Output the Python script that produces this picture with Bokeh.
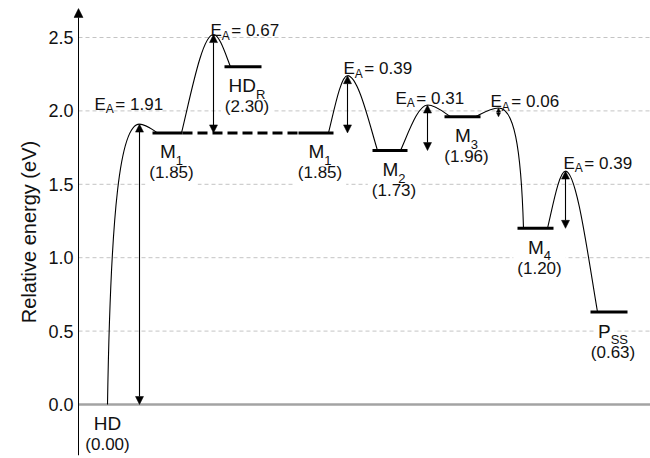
from bokeh.plotting import figure
from bokeh.models import Range1d, FixedTicker, PrintfTickFormatter, Arrow, NormalHead, ColumnDataSource
from bokeh.core.properties import value
from bokeh.embed import file_html
from bokeh.resources import INLINE

# ---------------- data ----------------
state_names = ["HD", "M", "HD", "M", "M", "M", "M", "P"]
state_subs = ["", "1", "R", "1", "2", "3", "4", "SS"]
state_energy = [0.00, 1.85, 2.30, 1.85, 1.73, 1.96, 1.20, 0.63]
step_from = [0, 1, 3, 4, 5, 6]
step_to = [1, 2, 4, 5, 6, 7]
barrier_ea = [1.91, 0.67, 0.39, 0.31, 0.06, 0.39]
dashed_link = [1, 3]          # M1 ... M1 at the same energy
y_ticks = [0.0, 0.5, 1.0, 1.5, 2.0, 2.5]
y_title = "Relative energy (eV)"

# ---------------- layout (hidden reaction coordinate) ----------------
frame_x0, axis_x, frame_x1 = 73, 78, 650
bar_left = [88, 152, 224, 298, 372, 444, 517, 590]
bar_right = [118, 182, 261, 333, 407, 480, 553, 627]
bar_visible = [False, True, True, True, True, True, True, True]
curve_start_x = [107, 181, 328, 400, 475, 547]
peak_x = [139, 213, 347, 427, 498, 565]
curve_end_x = [157, 230, 377, 450, 523, 597]
shape_left = ["steep", "std", "std", "std", "std", "std"]
shape_right = ["std", "std", "std", "std", "steep", "std"]
ea_dx = [-45, -3, -4, -32, -8, -2]
ea_dy = [-20, -4, -7, -7, -6, -8]
head_size = [8, 8, 8, 8, 4, 8]
name_dy, sub_dy, val_dy = 23, 27.5, 44

SHAPES = {"std": (0.30, 0.40, 0.65), "steep": (0.10, 0.70, 0.40)}
FONT = "Liberation Sans"
INK = "#111111"
NAME_PX, SUB_PX, VAL_PX, EA_SUB_PX = 19, 13, 17, 12
PAD = 4
CHAR_W = {"H": 722, "D": 722, "M": 833, "P": 667, "E": 667, "A": 667, "R": 722, "S": 667,
          "0": 556, "1": 556, "2": 556, "3": 556, "4": 556}


def text_w(s, px):
    return sum(CHAR_W[c] for c in s) * px / 1000.0


# ---------------- figure ----------------
px_per_unit = 146.8
y_lo = -(455 - 404) / px_per_unit
y_hi = (404 - 8) / px_per_unit
p = figure(width=650, height=458, output_backend="svg", toolbar_location=None,
           x_range=Range1d(frame_x0, frame_x1), y_range=Range1d(y_lo, y_hi),
           x_axis_location=None, min_border_left=frame_x0, min_border_right=0,
           min_border_top=8, min_border_bottom=3, background_fill_color="white",
           border_fill_color="white")
p.outline_line_color = None
p.xgrid.visible = False
p.ygrid.visible = False

ax = p.yaxis[0]
ax.ticker = FixedTicker(ticks=y_ticks)
ax.formatter = PrintfTickFormatter(format="%.1f")
ax.axis_line_color = None
ax.major_tick_line_color = None
ax.minor_tick_line_color = None
ax.major_tick_in = 0
ax.major_tick_out = 0
ax.major_label_standoff = 0
ax.major_label_text_font = FONT
ax.major_label_text_font_size = "18px"
ax.major_label_text_color = INK
ax.axis_label = y_title
ax.axis_label_text_font = FONT
ax.axis_label_text_font_size = "20px"
ax.axis_label_text_font_style = "normal"
ax.axis_label_text_color = INK
ax.axis_label_standoff = 5

# dashed grid lines and zero line
gy = [t for t in y_ticks if t != 0]
p.segment(x0=[axis_x] * len(gy), y0=gy, x1=[frame_x1] * len(gy), y1=gy,
          line_color="#c4c4c4", line_width=1, line_dash="4 3")
p.segment(x0=[axis_x], y0=[0], x1=[frame_x1], y1=[0], line_color="#a3a3a3", line_width=2.5)

# axis line with arrow head
p.add_layout(Arrow(x_start=axis_x, y_start=y_lo, x_end=axis_x, y_end=y_hi,
                   end=NormalHead(size=9, fill_color="black", line_color="black", line_width=0.5),
                   start=None, line_color="black", line_width=1))

# ---------------- levels ----------------
bx0 = [bar_left[i] for i in range(len(state_energy)) if bar_visible[i]]
bx1 = [bar_right[i] for i in range(len(state_energy)) if bar_visible[i]]
by = [state_energy[i] for i in range(len(state_energy)) if bar_visible[i]]
p.segment(x0=bx0, y0=by, x1=bx1, y1=by, line_color="black", line_width=3)

a, b = dashed_link
p.segment(x0=[bar_right[a]], y0=[state_energy[a]], x1=[bar_left[b]], y1=[state_energy[b]],
          line_color="black", line_width=3, line_dash="10 5")

# ---------------- barrier curves ----------------
L = dict(x0=[], y0=[], x1=[], y1=[], cx0=[], cy0=[], cx1=[], cy1=[])
ts_energy = []
for k in range(len(step_from)):
    es = state_energy[step_from[k]]
    ee = state_energy[step_to[k]]
    ep = es + barrier_ea[k]
    ts_energy.append(ep)
    xs, xp, xe = curve_start_x[k], peak_x[k], curve_end_x[k]
    fa, fb, fc = SHAPES[shape_left[k]]
    L["x0"].append(xs); L["y0"].append(es); L["x1"].append(xp); L["y1"].append(ep)
    L["cx0"].append(xs + fa * (xp - xs)); L["cy0"].append(es + fb * (ep - es))
    L["cx1"].append(xs + fc * (xp - xs)); L["cy1"].append(ep)
    ga, gb, gc = SHAPES[shape_right[k]]
    L["x0"].append(xp); L["y0"].append(ep); L["x1"].append(xe); L["y1"].append(ee)
    L["cx0"].append(xe - gc * (xe - xp)); L["cy0"].append(ep)
    L["cx1"].append(xe - ga * (xe - xp)); L["cy1"].append(ee + gb * (ep - ee))
p.bezier(source=ColumnDataSource(L), x0="x0", y0="y0", x1="x1", y1="y1",
         cx0="cx0", cy0="cy0", cx1="cx1", cy1="cy1", line_color="black", line_width=1.1)

# ---------------- activation arrows ----------------
for k in range(len(step_from)):
    es = state_energy[step_from[k]]
    hs = head_size[k]
    p.add_layout(Arrow(x_start=peak_x[k], y_start=es, x_end=peak_x[k], y_end=ts_energy[k],
                       start=NormalHead(size=hs, fill_color="black", line_color="black", line_width=0.5),
                       end=NormalHead(size=hs, fill_color="black", line_color="black", line_width=0.5),
                       line_color="black", line_width=1.1))

# ---------------- state labels (with white boxes that break the grid) ----------------
nb_x, nb_y, nb_t, ns_x, ns_t, ns_y = [], [], [], [], [], []
val_x, val_y, val_t = [], [], []
for i in range(len(state_energy)):
    cx = (bar_left[i] + bar_right[i]) / 2 + 4
    bw = text_w(state_names[i], NAME_PX)
    sw = text_w(state_subs[i], SUB_PX)
    xb = cx - (bw + sw) / 2
    nb_x.append(xb); nb_y.append(state_energy[i]); nb_t.append(state_names[i])
    if state_subs[i]:
        ns_x.append(xb + bw); ns_y.append(state_energy[i]); ns_t.append(state_subs[i])
    val_x.append(cx); val_y.append(state_energy[i]); val_t.append("(%.2f)" % state_energy[i])

common = dict(text_font=value(FONT), text_color=INK, text_baseline="alphabetic", text_align="left")
bg = dict(background_fill_color="white", padding=PAD)
p.text(x=val_x, y=val_y, text=val_t, y_offset=val_dy - PAD, text_font_size=value("17px"),
       text_font=value(FONT), text_color=INK, text_baseline="alphabetic", text_align="center", **bg)
p.text(x=nb_x, y=nb_y, text=nb_t, x_offset=-PAD, y_offset=name_dy - PAD,
       text_font_size=value("%dpx" % NAME_PX), **common, **bg)
p.text(x=ns_x, y=ns_y, text=ns_t, y_offset=sub_dy, text_font_size=value("%dpx" % SUB_PX), **common)

# ---------------- E_A labels ----------------
e_x, e_y, e_off = [], [], []
s_x, s_off = [], []
v_x, v_txt = [], []
for k in range(len(step_from)):
    x0 = peak_x[k] + ea_dx[k]
    e_x.append(x0); e_y.append(ts_energy[k]); e_off.append(ea_dy[k])
    s_x.append(x0 + text_w("E", VAL_PX))
    s_off.append(ea_dy[k] + 5)
    v_x.append(x0 + text_w("E", VAL_PX) + text_w("A", EA_SUB_PX) + 1.5)
    v_txt.append("= %.2f" % barrier_ea[k])
p.text(x=e_x, y=e_y, text=["E"] * len(e_x), y_offset=e_off, text_font_size=value("17px"), **common)
p.text(x=s_x, y=e_y, text=["A"] * len(s_x), y_offset=s_off, text_font_size=value("%dpx" % EA_SUB_PX), **common)
p.text(x=v_x, y=e_y, text=v_txt, y_offset=e_off, text_font_size=value("17px"), **common)

open("out.html", "w").write(file_html(p, INLINE))
